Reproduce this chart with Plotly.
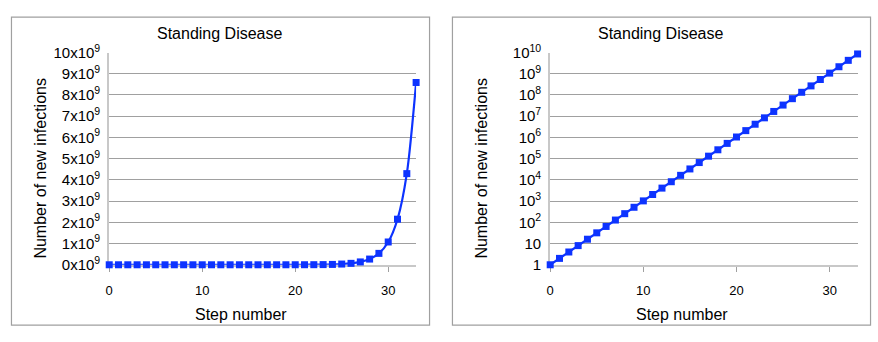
import plotly.graph_objects as go

# Steps 0..33, new infections doubling each step
steps = list(range(34))
infections = [1, 2, 4, 8, 16, 32, 64, 128, 256, 512, 1024, 2048, 4096, 8192,
              16384, 32768, 65536, 131072, 262144, 524288, 1048576, 2097152,
              4194304, 8388608, 16777216, 33554432, 67108864, 134217728,
              268435456, 536870912, 1073741824, 2147483648, 4294967296,
              8589934592]

lin_tickvals = [i * 1e9 for i in range(11)]
lin_ticktext = [f"{i}x10<sup>9</sup>" for i in range(11)]
log_tickvals = [10 ** i for i in range(11)]
log_ticktext = ["1", "10"] + [f"10<sup>{i}</sup>" for i in range(2, 11)]
x_tickvals = [0, 10, 20, 30]

W, H = 878, 342
BLUE = "#0d33ff"
GRID = "#a0a0a0"
AXIS = "#c8c8c8"
FONT = "Liberation Sans, Arial, sans-serif"


def px(x):
    return x / W


def py(y):
    return 1 - y / H


fig = go.Figure()
fig.add_trace(go.Scatter(x=steps, y=infections, mode="lines+markers",
                         line=dict(color=BLUE, width=2.2, shape="spline",
                                   smoothing=0.8),
                         marker=dict(symbol="square", size=7, color=BLUE),
                         cliponaxis=False, xaxis="x", yaxis="y", showlegend=False))
fig.add_trace(go.Scatter(x=steps, y=infections, mode="lines+markers",
                         line=dict(color=BLUE, width=2.2),
                         marker=dict(symbol="square", size=7, color=BLUE),
                         cliponaxis=False, xaxis="x2", yaxis="y2", showlegend=False))

xcommon = dict(range=[0, 33], tickvals=x_tickvals, showgrid=False,
               showline=True, linecolor=AXIS, linewidth=2,
               ticks="outside", ticklen=5, tickcolor=GRID, tickwidth=1,
               tickfont=dict(size=13, color="black"), ticklabelstandoff=8,
               zeroline=False, layer="below traces")
ycommon = dict(showgrid=True, gridcolor=GRID, gridwidth=1,
               showline=True, linecolor=AXIS, linewidth=2,
               ticks="", tickfont=dict(size=15, color="black"),
               ticklabelstandoff=4, zeroline=False, layer="below traces")

ydom = [py(268.7), py(44)]
fig.update_layout(
    width=W, height=H, margin=dict(l=0, r=0, t=0, b=0),
    paper_bgcolor="white", plot_bgcolor="white",
    font=dict(family=FONT, color="black"),
    xaxis=dict(domain=[px(105.7), px(414)], anchor="y", **xcommon),
    yaxis=dict(domain=ydom, anchor="x", range=[0, 1e10],
               tickvals=lin_tickvals, ticktext=lin_ticktext, **ycommon),
    xaxis2=dict(domain=[px(548.7), px(857.5)], anchor="y2", **xcommon),
    yaxis2=dict(domain=ydom, anchor="x2", type="log", range=[0, 10],
                tickvals=log_tickvals, ticktext=log_ticktext, **ycommon),
)

# Panel frames
for x0, x1 in [(7.5, 427.5), (450.5, 870.5)]:
    fig.add_shape(type="rect", xref="paper", yref="paper",
                  x0=px(x0), x1=px(x1), y0=py(332.5), y1=py(6.5),
                  line=dict(color=GRID, width=1.2))

# Titles and axis labels
for tx, sx, ax in [(217, 238, 37), (660.5, 681, 480)]:
    fig.add_annotation(text="Standing Disease", x=px(tx), y=py(24),
                       xref="paper", yref="paper", showarrow=False,
                       xanchor="center", yanchor="middle", font=dict(size=16))
    fig.add_annotation(text="Step number", x=px(sx), y=py(321),
                       xref="paper", yref="paper", showarrow=False,
                       xanchor="center", yanchor="middle", font=dict(size=16))
    fig.add_annotation(text="Number of new infections", x=px(ax), y=py(166),
                       xref="paper", yref="paper", showarrow=False,
                       textangle=-90, xanchor="center", yanchor="middle",
                       font=dict(size=16))

fig.write_html("out.html")
